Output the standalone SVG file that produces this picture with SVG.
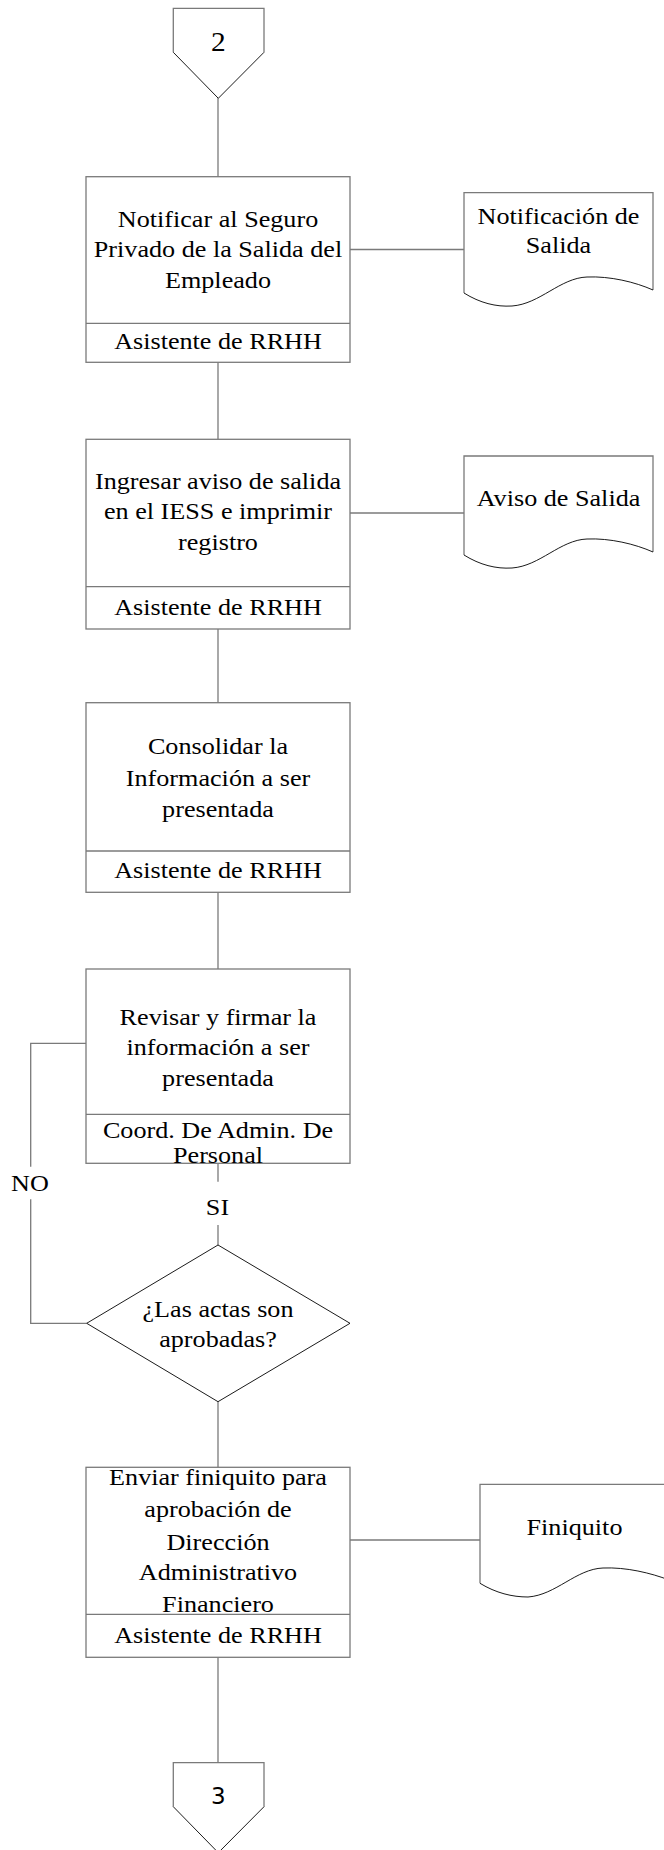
<svg xmlns="http://www.w3.org/2000/svg" width="664" height="1850" viewBox="0 0 664 1850">
  <style>
    .frame { fill: #fff; stroke: #7a7a7a; stroke-width: 1.3; }
    .edge { fill: none; stroke: #7a7a7a; stroke-width: 1.3; }
    .thin { fill: none; stroke: #000; stroke-width: 0.9; }
    .t { font-family: "Liberation Serif", "Times New Roman", serif; font-size: 24px; fill: #000; text-anchor: middle; }
    .s { font-family: "DejaVu Sans", "Liberation Sans", sans-serif; font-size: 23px; fill: #000; text-anchor: middle; }
  </style>

  <!-- connectors -->
  <g id="connectors">
    <line class="edge" x1="218" y1="98.3" x2="218" y2="176.7"/>
    <line class="edge" x1="218" y1="362.3" x2="218" y2="439.3"/>
    <line class="edge" x1="218" y1="629" x2="218" y2="702.7"/>
    <line class="edge" x1="218" y1="892.3" x2="218" y2="969"/>
    <line class="edge" x1="218" y1="1163.3" x2="218" y2="1181.7"/>
    <line class="edge" x1="218" y1="1225" x2="218" y2="1245"/>
    <line class="edge" x1="218" y1="1401.7" x2="218" y2="1467.3"/>
    <line class="edge" x1="218" y1="1657.3" x2="218" y2="1762.7"/>
    <line class="edge" x1="350" y1="249.5" x2="464" y2="249.5"/>
    <line class="edge" x1="350" y1="513" x2="464" y2="513"/>
    <line class="edge" x1="350" y1="1540" x2="480" y2="1540"/>
    <polyline class="edge" points="86.7,1323.3 30.7,1323.3 30.7,1199.3"/>
    <polyline class="edge" points="30.7,1166.7 30.7,1043.3 86,1043.3"/>
    <g transform="translate(30 0) scale(1.09 1)"><text class="t" x="0" y="1190.7">NO</text></g>
    <g transform="translate(217.5 0) scale(1.09 1)"><text class="t" x="0" y="1215">SI</text></g>
  </g>

  <!-- off-page connector 2 -->
  <g id="off-page-2">
    <polyline class="edge" points="173.3,52.3 173.3,8.3 264,8.3 264,52.3"/>
    <polyline class="thin" points="173.3,52.3 218.3,98.3 264,52.3"/>
    <g transform="translate(218.3 0) scale(1.09 1)"><text class="t" x="0" y="50.7" style="font-size:27px">2</text></g>
  </g>

  <!-- step 1 -->
  <g id="notificar-seguro">
    <rect class="frame" x="86" y="176.7" width="264" height="185.6"/>
    <line class="edge" x1="86" y1="323.3" x2="350" y2="323.3"/>
    <g transform="translate(218 0) scale(1.09 1)">
      <text class="t" x="0" y="226.7">Notificar al Seguro</text>
      <text class="t" x="0" y="256.7">Privado de la Salida del</text>
      <text class="t" x="0" y="288">Empleado</text>
      <text class="t" x="0" y="349.3">Asistente de RRHH</text>
    </g>
  </g>

  <g id="doc-notificacion">
    <path class="edge" d="M464,293 L464,192.7 L653,192.7 L653,290"/>
    <path class="thin" d="M464,293 C480,303 496,307 512,306 C540,304 560,278 587,277 C610,276 635,282 653,290"/>
    <g transform="translate(558.5 0) scale(1.09 1)">
      <text class="t" x="0" y="224.3">Notificación de</text>
      <text class="t" x="0" y="252.7">Salida</text>
    </g>
  </g>

  <!-- step 2 -->
  <g id="ingresar-aviso">
    <rect class="frame" x="86" y="439.3" width="264" height="189.7"/>
    <line class="edge" x1="86" y1="586.7" x2="350" y2="586.7"/>
    <g transform="translate(218 0) scale(1.09 1)">
      <text class="t" x="0" y="489.3">Ingresar aviso de salida</text>
      <text class="t" x="0" y="519.3">en el IESS e imprimir</text>
      <text class="t" x="0" y="550">registro</text>
      <text class="t" x="0" y="615">Asistente de RRHH</text>
    </g>
  </g>

  <g id="doc-aviso">
    <path class="edge" d="M464,555 L464,456 L653,456 L653,552"/>
    <path class="thin" d="M464,555 C480,565 496,569 512,568 C540,566 560,540 587,539 C610,538 635,544 653,552"/>
    <g transform="translate(558.5 0) scale(1.09 1)">
      <text class="t" x="0" y="506">Aviso de Salida</text>
    </g>
  </g>

  <!-- step 3 -->
  <g id="consolidar">
    <rect class="frame" x="86" y="702.7" width="264" height="189.6"/>
    <line class="edge" x1="86" y1="851" x2="350" y2="851"/>
    <g transform="translate(218 0) scale(1.09 1)">
      <text class="t" x="0" y="754">Consolidar la</text>
      <text class="t" x="0" y="785.7">Información a ser</text>
      <text class="t" x="0" y="816.7">presentada</text>
      <text class="t" x="0" y="878.3">Asistente de RRHH</text>
    </g>
  </g>

  <!-- step 4 -->
  <g id="revisar-firmar">
    <rect class="frame" x="86" y="969" width="264" height="194.3"/>
    <line class="edge" x1="86" y1="1114.3" x2="350" y2="1114.3"/>
    <g transform="translate(218 0) scale(1.09 1)">
      <text class="t" x="0" y="1025">Revisar y firmar la</text>
      <text class="t" x="0" y="1055">información a ser</text>
      <text class="t" x="0" y="1086">presentada</text>
      <text class="t" x="0" y="1138.3">Coord. De Admin. De</text>
      <text class="t" x="0" y="1163.3">Personal</text>
    </g>
  </g>

  <!-- decision -->
  <g id="decision-actas">
    <polygon points="218,1245 350,1323.3 218,1401.7 86.7,1323.3" fill="#fff" stroke="#000" stroke-width="0.9"/>
    <g transform="translate(218 0) scale(1.09 1)">
      <text class="t" x="0" y="1316.7">¿Las actas son</text>
      <text class="t" x="0" y="1346.7">aprobadas?</text>
    </g>
  </g>

  <!-- step 5 -->
  <g id="enviar-finiquito">
    <rect class="frame" x="86" y="1467.3" width="264" height="190"/>
    <line class="edge" x1="86" y1="1614.3" x2="350" y2="1614.3"/>
    <g transform="translate(218 0) scale(1.09 1)">
      <text class="t" x="0" y="1485">Enviar finiquito para</text>
      <text class="t" x="0" y="1516.7">aprobación de</text>
      <text class="t" x="0" y="1550">Dirección</text>
      <text class="t" x="0" y="1580">Administrativo</text>
      <text class="t" x="0" y="1611.7">Financiero</text>
      <text class="t" x="0" y="1643.3">Asistente de RRHH</text>
    </g>
  </g>

  <g id="doc-finiquito">
    <path class="edge" d="M480,1583.3 L480,1484.3 L669,1484.3 L669,1580"/>
    <path class="thin" d="M480,1583.3 C496,1593 512,1597 528,1597 C556,1595 576,1569 603,1568 C626,1567 651,1573 669,1580"/>
    <g transform="translate(574.5 0) scale(1.09 1)">
      <text class="t" x="0" y="1535">Finiquito</text>
    </g>
  </g>

  <!-- off-page connector 3 -->
  <g id="off-page-3">
    <polyline class="edge" points="173.3,1806.7 173.3,1762.7 264,1762.7 264,1806.7"/>
    <polyline class="thin" points="173.3,1806.7 218.3,1852.7 264,1806.7"/>
    <g transform="translate(218.3 0) scale(1.0 1)"><text class="s" x="0" y="1804">3</text></g>
  </g>
</svg>
